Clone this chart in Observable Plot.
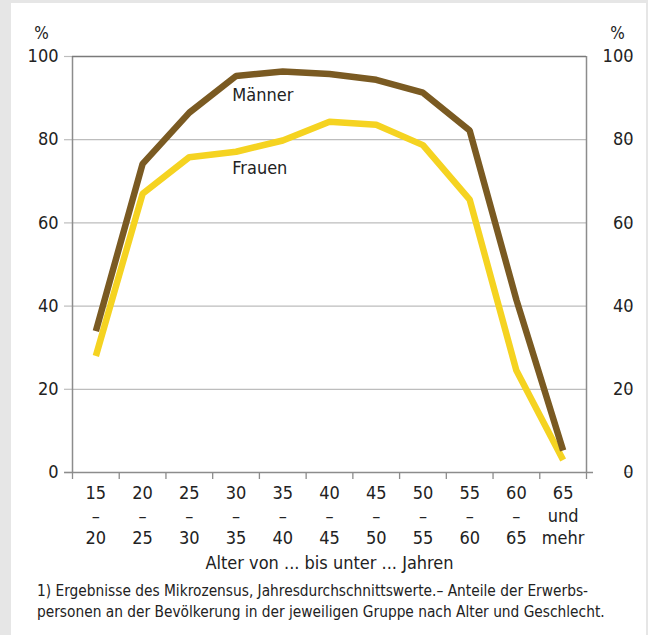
<!DOCTYPE html>
<html>
<head>
<meta charset="utf-8">
<script src="https://cdn.jsdelivr.net/npm/d3@7"></script>
<script src="https://cdn.jsdelivr.net/npm/@observablehq/plot@0.6"></script>
<style>
  html, body { margin: 0; padding: 0; background: #e6e6e6; }
  body { width: 648px; height: 635px; position: relative; overflow: hidden;
         font-family: "DejaVu Sans Condensed", "DejaVu Sans", sans-serif; }
  #panel { position: absolute; left: 11px; top: 3px; width: 635px; height: 632px; background: #fff; }
  #chart { position: absolute; left: 0; top: 0; }
  #note { position: absolute; left: 37px; top: 581px; font-size: 15.3px; line-height: 21px; color: #222; white-space: nowrap; }
</style>
</head>
<body>
<div id="panel"></div>
<div id="chart"></div>
<div id="note">1) Ergebnisse des Mikrozensus, Jahresdurchschnittswerte.– Anteile der Erwerbs-<br>personen an der Bevölkerung in der jeweiligen Gruppe nach Alter und Geschlecht.</div>
<script>
const categories = ["15–20","20–25","25–30","30–35","35–40","40–45","45–50","50–55","55–60","60–65","65 und mehr"];
const tickLabels = ["15\n–\n20","20\n–\n25","25\n–\n30","30\n–\n35","35\n–\n40","40\n–\n45","45\n–\n50","50\n–\n55","55\n–\n60","60\n–\n65","65\nund\nmehr"];
const maenner = [34, 74.2, 86.5, 95.3, 96.4, 95.8, 94.4, 91.3, 82.2, 41.5, 5.3];
const frauen  = [28, 67, 75.8, 77.1, 79.8, 84.3, 83.6, 78.7, 65.6, 24.5, 3];
const yTicks = [0, 20, 40, 60, 80, 100];
const seriesLabels = [
  {name: "Männer", x: 3.42, y: 90.6},
  {name: "Frauen", x: 3.42, y: 73.1}
];

const rows = [];
categories.forEach((c, i) => {
  rows.push({series: "Männer", i, c, v: maenner[i]});
  rows.push({series: "Frauen", i, c, v: frauen[i]});
});
const mRows = rows.filter(d => d.series === "Männer");
const fRows = rows.filter(d => d.series === "Frauen");

const FONT = '"DejaVu Sans Condensed", "DejaVu Sans", sans-serif';
const W = 648, H = 575;
const plot = Plot.plot({
  width: W,
  height: H,
  marginLeft: 72,
  marginRight: 62,
  marginTop: 56,
  marginBottom: H - 472,
  style: {fontFamily: FONT, fontSize: "18px", color: "#222", background: "transparent"},
  x: {type: "linear", domain: [0, categories.length]},
  y: {domain: [0, 100]},
  marks: [
    Plot.gridY(yTicks, {stroke: "#bdbdbd", strokeOpacity: 1, strokeWidth: 1.2}),
    Plot.axisY(yTicks, {anchor: "left", tickSize: 8, tickPadding: 6, stroke: "#bdbdbd", strokeWidth: 1.2, fontSize: 18, label: null}),
    Plot.axisY(yTicks, {anchor: "right", tickSize: 7, tickPadding: 3, stroke: "#bdbdbd", strokeWidth: 1.2, fontSize: 18, textAnchor: "end", dx: 37, label: null}),
    Plot.ruleX([0, categories.length], {stroke: "#8c8c8c", strokeWidth: 1.5}),
    Plot.ruleY([100], {stroke: "#7a7a7a", strokeWidth: 1.5}),
    Plot.axisX(d3.range(0, categories.length + 1), {anchor: "bottom", tickSize: 7, stroke: "#8c8c8c", strokeWidth: 1.3, tickFormat: () => "", label: null}),
    Plot.axisX(categories.map((c, i) => i + 0.5), {anchor: "bottom", tickSize: 0, tickPadding: 11, fontSize: 18, lineHeight: 1.24, tickFormat: (d) => tickLabels[Math.floor(d)], label: null}),
    Plot.ruleY([0], {stroke: "#8c8c8c", strokeWidth: 1.5, x1: -0.17, x2: categories.length + 0.15}),
    Plot.line(fRows, {x: d => d.i + 0.5, y: "v", stroke: "#f5d321", strokeWidth: 6.5, strokeLinejoin: "miter", strokeLinecap: "butt"}),
    Plot.line(mRows, {x: d => d.i + 0.5, y: "v", stroke: "#7a5a22", strokeWidth: 6.5, strokeLinejoin: "miter", strokeLinecap: "butt"}),
    Plot.text(seriesLabels, {x: "x", y: "y", text: "name", textAnchor: "start", fontSize: 18, fill: "#222"}),
    Plot.text(["%"], {frameAnchor: "top-left", textAnchor: "middle", lineAnchor: "middle", dx: -31, dy: -23, fontSize: 17, fill: "#222"}),
    Plot.text(["%"], {frameAnchor: "top-right", textAnchor: "middle", lineAnchor: "middle", dx: 31, dy: -23, fontSize: 17, fill: "#222"}),
    Plot.text(["Alter von ... bis unter ... Jahren"], {frameAnchor: "bottom", dy: 96, fontSize: 18, fill: "#222"})
  ]
});
document.getElementById("chart").appendChild(plot);
</script>
</body>
</html>
